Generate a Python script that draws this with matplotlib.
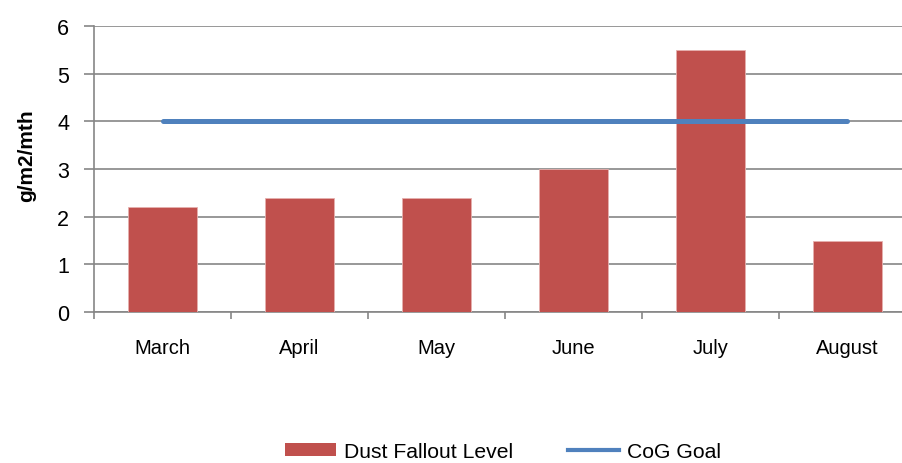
import numpy as np
import matplotlib.pyplot as plt
from matplotlib.lines import Line2D
from matplotlib.patches import Patch

plt.rcParams["font.family"] = ["Liberation Sans", "DejaVu Sans"]

# Data
months = ["March", "April", "May", "June", "July", "August"]
dust_fallout = [2.2, 2.4, 2.4, 3.0, 5.5, 1.5]
cog_goal = [4, 4, 4, 4, 4, 4]
y_ticks = [0, 1, 2, 3, 4, 5, 6]

bar_color = "#C0504D"
line_color = "#4F81BD"
grid_color = "#868686"

fig = plt.figure(figsize=(9.02, 4.64), dpi=100)
ax = fig.add_axes([94 / 902, 151 / 464, 822 / 902, 286 / 464])

x = np.arange(len(months))
ax.bar(x, dust_fallout, width=0.5, color=bar_color, edgecolor="#E6B0AE",
       linewidth=0.6, zorder=3)
ax.plot(x, cog_goal, color=line_color, linewidth=3.6, solid_capstyle="round",
        zorder=4)

# Axes styling
ax.set_xlim(-0.5, len(months) - 0.5)
ax.set_ylim(0, 6)
ax.set_yticks(y_ticks)
ax.set_yticklabels([str(t) for t in y_ticks], fontsize=15.5)
ax.yaxis.grid(True, color=grid_color, linewidth=1.2, zorder=0)
ax.set_axisbelow(True)

ax.set_xticks(x)
ax.set_xticklabels(months, fontsize=14.5)
ax.set_xticks(np.arange(-0.5, len(months)), minor=True)
ax.tick_params(axis="x", which="major", length=0, pad=19)
ax.tick_params(axis="x", which="minor", length=5, width=1.2, color=grid_color)
ax.tick_params(axis="y", length=7, width=1.2, color=grid_color, pad=11)

for side in ["top", "right"]:
    ax.spines[side].set_visible(False)
for side in ["left", "bottom"]:
    ax.spines[side].set_color(grid_color)
    ax.spines[side].set_linewidth(1.2)

ax.set_ylabel("g/m2/mth", fontsize=15, fontweight="bold")
ax.yaxis.set_label_coords(-0.071, 0.55)

# Legend
handles = [Patch(facecolor=bar_color, edgecolor="none"),
           Line2D([0], [0], color=line_color, linewidth=3)]
fig.legend(handles, ["Dust Fallout Level", "CoG Goal"], loc="lower center",
           bbox_to_anchor=(503 / 902, 0.0), ncol=2, frameon=False,
           fontsize=15.2, handlelength=2.4, handleheight=0.6, columnspacing=2.6,
           handletextpad=0.4, borderpad=0.1, borderaxespad=0.0)

fig.savefig("out.png", dpi=100)
